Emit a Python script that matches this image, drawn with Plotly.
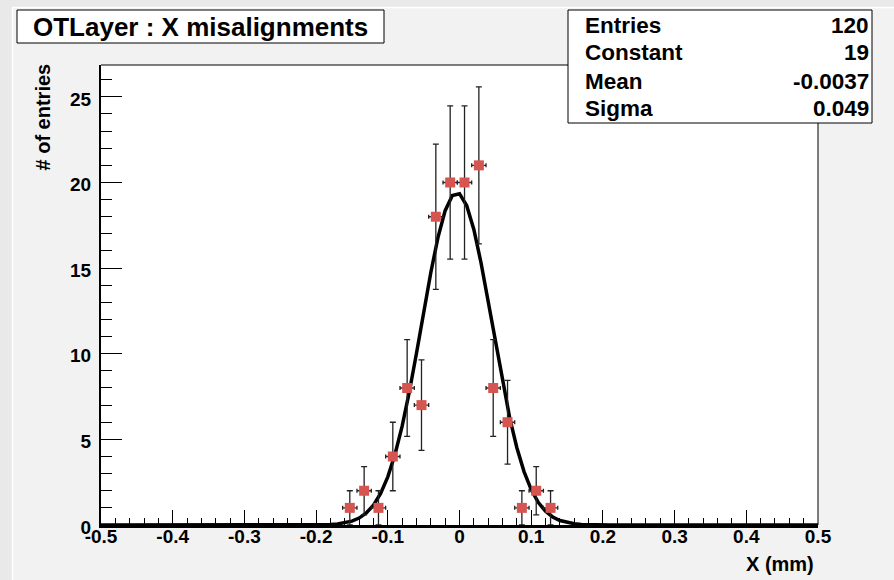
import numpy as np
import plotly.graph_objects as go

# ---- data ----
bin_centers = [-0.153, -0.133, -0.113, -0.093, -0.073, -0.053, -0.033, -0.013,
               0.007, 0.027, 0.047, 0.067, 0.087, 0.107, 0.127]
counts = [1, 2, 1, 4, 8, 7, 18, 20, 20, 21, 8, 6, 1, 2, 1]
bin_half_width = [0.01] * len(bin_centers)
count_errors = [float(np.sqrt(c)) for c in counts]

fit_constant = 19.4
fit_mean = -0.0037
fit_sigma = 0.049

stats_labels = ["Entries", "Constant", "Mean", "Sigma"]
stats_values = ["120", "19", "-0.0037", "0.049"]

title_text = "OTLayer : X misalignments"
x_title = "X (mm)"
y_title = "# of entries"

x_tick_vals = [-0.5, -0.4, -0.3, -0.2, -0.1, 0, 0.1, 0.2, 0.3, 0.4, 0.5]
x_tick_text = ["-0.5", "-0.4", "-0.3", "-0.2", "-0.1", "0", "0.1", "0.2", "0.3", "0.4", "0.5"]
y_tick_vals = [0, 5, 10, 15, 20, 25]
y_tick_text = ["0", "5", "10", "15", "20", "25"]

x_range = [-0.5, 0.5]
y_range = [0, 26.86]

# ---- layout geometry (pixels) ----
W, H = 894, 580
L, R, T, B = 101, 818, 65, 525
FONT = "Liberation Sans, Arial, Helvetica, sans-serif"


def px(x):
    return (x - L) / (R - L)


def py(y):
    return (B - y) / (B - T)


fit_x = np.linspace(x_range[0], x_range[1], 101)
fit_y = fit_constant * np.exp(-0.5 * ((fit_x - fit_mean) / fit_sigma) ** 2)

fig = go.Figure()
fig.add_trace(go.Scatter(
    x=fit_x, y=fit_y, mode="lines",
    line=dict(color="black", width=3.5),
    hoverinfo="skip", showlegend=False,
))
fig.add_trace(go.Scatter(
    x=bin_centers, y=counts, mode="markers",
    marker=dict(symbol="square", size=10, color="#d65550"),
    error_y=dict(type="data", array=count_errors, visible=True,
                 color="#222222", thickness=1.3, width=3),
    error_x=dict(type="data", array=bin_half_width, visible=True,
                 color="#222222", thickness=1.3, width=2),
    showlegend=False,
))

shapes = [
    # outer canvas strips
    dict(type="rect", xref="paper", yref="paper", x0=px(-5), x1=px(W + 5),
         y0=py(7), y1=py(-5), fillcolor="#e9e9e9", line=dict(width=0), layer="below"),
    dict(type="rect", xref="paper", yref="paper", x0=px(-5), x1=px(12),
         y0=py(H + 5), y1=py(-5), fillcolor="#e9e9e9", line=dict(width=0), layer="below"),
    dict(type="line", xref="paper", yref="paper", x0=px(12), x1=px(W + 5),
         y0=py(7.5), y1=py(7.5), line=dict(color="white", width=1.5), layer="below"),
    dict(type="line", xref="paper", yref="paper", x0=px(12.5), x1=px(12.5),
         y0=py(7.5), y1=py(H + 5), line=dict(color="white", width=1.5), layer="below"),
    # frame top and right
    dict(type="line", xref="paper", yref="paper", x0=0, x1=1, y0=1, y1=1,
         line=dict(color="black", width=1), layer="above"),
    dict(type="line", xref="paper", yref="paper", x0=1, x1=1, y0=0, y1=1,
         line=dict(color="black", width=1), layer="above"),
    # title box
    dict(type="rect", xref="paper", yref="paper", x0=px(17), x1=px(384),
         y0=py(43), y1=py(10), fillcolor="white",
         line=dict(color="black", width=1), layer="above"),
    # stats box
    dict(type="rect", xref="paper", yref="paper", x0=px(568), x1=px(872),
         y0=py(123), y1=py(10), fillcolor="white",
         line=dict(color="black", width=1), layer="above"),
]

annotations = [
    dict(text="<b>" + title_text + "</b>", xref="paper", yref="paper", x=px(200.5), y=py(27),
         xanchor="center", yanchor="middle", showarrow=False,
         font=dict(family=FONT, size=26, color="black")),
    dict(text="<b>" + x_title + "</b>", xref="paper", yref="paper", x=px(816), y=py(564),
         xanchor="right", yanchor="middle", showarrow=False,
         font=dict(family=FONT, size=20, color="black")),
    dict(text="<b>" + y_title + "</b>", xref="paper", yref="paper", x=px(43), y=py(62),
         xanchor="center", yanchor="top", textangle=-90, showarrow=False,
         font=dict(family=FONT, size=20, color="black")),
]

row_centers = [25, 53, 81, 108]
for lab, val, yc in zip(stats_labels, stats_values, row_centers):
    annotations.append(dict(text="<b>" + lab + "</b>", xref="paper", yref="paper",
                            x=px(583), y=py(yc), xanchor="left", yanchor="middle",
                            showarrow=False, font=dict(family=FONT, size=22.5, color="black")))
    annotations.append(dict(text="<b>" + val + "</b>", xref="paper", yref="paper",
                            x=px(871), y=py(yc), xanchor="right", yanchor="middle",
                            showarrow=False, font=dict(family=FONT, size=22.5, color="black")))

fig.update_layout(
    width=W, height=H,
    margin=dict(l=L, r=W - R, t=T, b=H - B, pad=0),
    paper_bgcolor="#f2f2f2", plot_bgcolor="white",
    shapes=shapes, annotations=annotations,
    font=dict(family=FONT, color="black"),
)
fig.update_xaxes(
    range=x_range, showgrid=False, zeroline=False,
    showline=True, linecolor="black", linewidth=2.5, mirror=False,
    ticks="inside", ticklen=15, tickwidth=1, tickcolor="black",
    tickvals=x_tick_vals, ticktext=["<b>" + t + "</b>" for t in x_tick_text],
    minor=dict(ticks="inside", ticklen=7, tickcolor="black", dtick=0.02, tick0=0, showgrid=False),
    tickfont=dict(family=FONT, size=19, color="black"),
    ticklabelstandoff=-8,
)
fig.update_yaxes(
    range=y_range, showgrid=False, zeroline=False,
    showline=True, linecolor="black", linewidth=2, mirror=False,
    ticks="inside", ticklen=21, tickwidth=1, tickcolor="black",
    tickvals=y_tick_vals, ticktext=["<b>" + t + "</b>" for t in y_tick_text],
    minor=dict(ticks="inside", ticklen=11, tickcolor="black", dtick=1, tick0=0, showgrid=False),
    tickfont=dict(family=FONT, size=19, color="black"),
    ticklabelstandoff=4,
    ticklabelshift=2,
)

fig.write_html("out.html")
